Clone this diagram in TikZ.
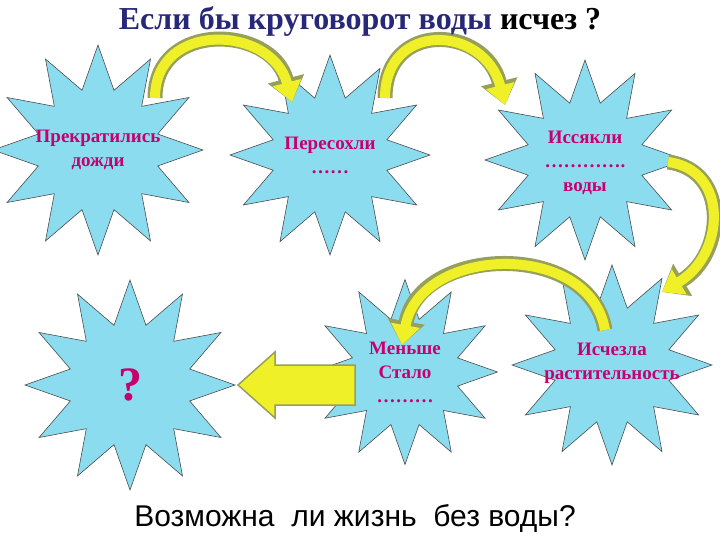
\documentclass[tikz,border=0pt]{standalone}
\usepackage{fontspec}
\setmainfont{Liberation Serif}
\newfontfamily\sansf{Liberation Sans}
\usetikzlibrary{shapes.geometric,arrows.meta}
\definecolor{cyanfill}{RGB}{140,220,240}
\definecolor{pinktx}{RGB}{200,0,110}
\definecolor{navy}{RGB}{40,40,120}
\definecolor{arrow}{RGB}{240,240,40}
\definecolor{arrowedge}{RGB}{150,160,90}
\tikzset{
  burst/.style={star, star points=12, star point ratio=1.7, draw=black!70, fill=cyanfill, line width=0.6pt, minimum size=200pt, inner sep=0pt},
  lbl/.style={text=pinktx, font=\bfseries\fontsize{19}{24}\selectfont, align=center},
  curv/.style={line width=15pt, draw=arrowedge, -{Triangle[length=24pt,width=36pt]}},
  curvin/.style={line width=10pt, draw=arrow, -{Triangle[length=20pt,width=28pt]}},
}
\begin{document}
\begin{tikzpicture}[x=1pt,y=-1pt]
\useasboundingbox (0,0) rectangle (720,540);
\node[burst, minimum size=210pt] (s1) at (98,150) {};
\node[burst] (s2) at (330,155) {};
\node[burst] (s3) at (585,160) {};
\node[burst, minimum size=210pt] (s4) at (130,385) {};
\node[burst, minimum size=185pt] (s5) at (405,372) {};
\node[burst] (s6) at (612,365) {};
\node[lbl] at (s1) {Прекратились\\дожди};
\node[lbl] at (s2) {Пересохли\\……};
\node[lbl] at ([yshift=-3pt]s3) {Иссякли\\………….\\воды};
\node[text=pinktx, font=\bfseries\fontsize{48}{48}\selectfont] at (s4) {?};
\node[lbl] at (s5) {Меньше\\Стало\\………};
\node[lbl] at ([yshift=2pt]s6) {Исчезла\\растительность};
\coordinate (a1s) at (155,98); \coordinate (a1e) at (292,102);
\coordinate (a2s) at (385,98); \coordinate (a2e) at (505,105);
\coordinate (a3s) at (668,162); \coordinate (a3e) at (662,292);
\coordinate (a4s) at (605,330); \coordinate (a4e) at (402,345);
\foreach \s/\e/\ca/\cb in {a1s/a1e/{(155,20)}/{(272,25)}, a2s/a2e/{(385,20)}/{(485,25)}, a3s/a3e/{(730,170)}/{(725,255)}, a4s/a4e/{(590,240)}/{(420,245)}}{
  \draw[curv] (\s) .. controls \ca and \cb .. (\e);
  \draw[curvin] (\s) .. controls \ca and \cb .. (\e);
}
\draw[draw=arrowedge, fill=arrow, line width=1.5pt] (355,365) -- (275,365) -- (275,352) -- (238,385) -- (275,418) -- (275,405) -- (355,405) -- cycle;
\node[font=\bfseries\fontsize{32}{32}\selectfont] at (360,22) {\textcolor{navy}{Если бы круговорот воды} исчез ?};
\node[font=\sansf\fontsize{30}{30}\selectfont] at (355,518) {Возможна\ \ ли жизнь\ \ без воды?};
\end{tikzpicture}
\end{document}
